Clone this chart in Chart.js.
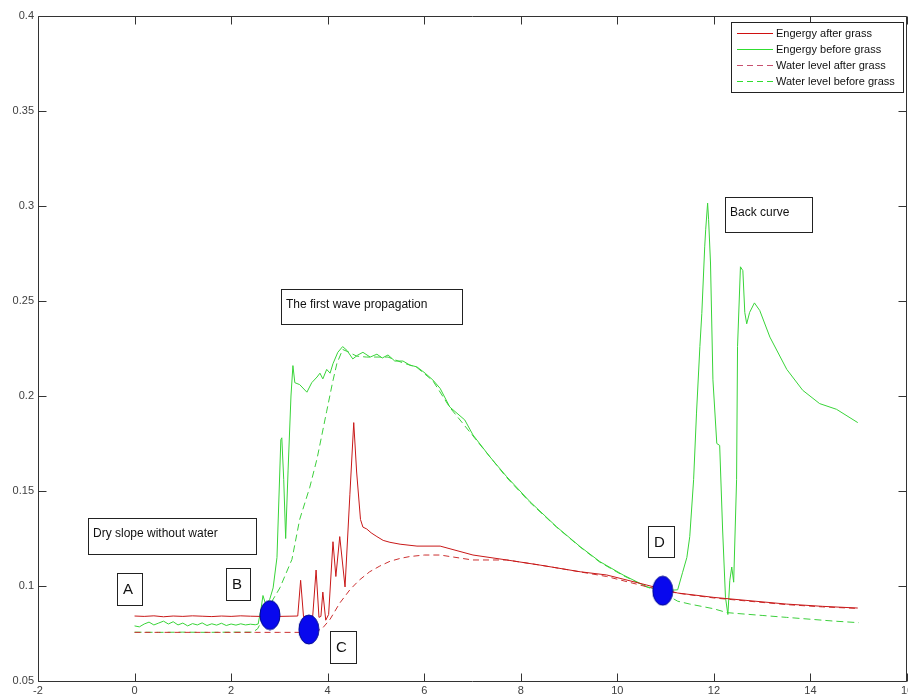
<!DOCTYPE html>
<html>
<head>
<meta charset="utf-8">
<script src="https://cdn.jsdelivr.net/npm/chart.js@4/dist/chart.umd.min.js"></script>
<style>
html,body{margin:0;padding:0;background:#fff;}
#wrap{width:908px;height:695px;}
</style>
</head>
<body>
<div id="wrap"><canvas id="c" width="908" height="695"></canvas></div>
<script>
// ---------- DATA ----------
const xTicks = [-2, 0, 2, 4, 6, 8, 10, 12, 14, 16];
const yTicks = [0.05, 0.1, 0.15, 0.2, 0.25, 0.3, 0.35, 0.4];

const seriesNames = ["Engergy after grass", "Engergy before grass", "Water level after grass", "Water level before grass"];

// Engergy after grass (red solid)
const energyAfterX = [0,0.2,0.4,0.6,0.8,1.0,1.2,1.4,1.6,1.8,2.0,2.2,2.4,2.6,2.8,3.0,3.2,3.38,3.44,3.50,3.69,3.76,3.82,3.86,3.90,3.96,4.02,4.11,4.17,4.25,4.36,4.46,4.54,4.60,4.68,4.73,4.81,4.90,5.02,5.15,5.29,5.50,5.85,6.33,7.01,7.71,8.40,9.23,9.78,10.61,11.25,12.0,12.81,13.5,14.25,14.98];
const energyAfterY = [0.0842,0.0840,0.0843,0.0838,0.0842,0.0840,0.0843,0.0841,0.0839,0.0842,0.0840,0.0843,0.0841,0.0840,0.0842,0.0840,0.0841,0.0842,0.1030,0.0838,0.0840,0.1084,0.0835,0.0840,0.0968,0.0820,0.0850,0.1233,0.1050,0.1260,0.0995,0.1480,0.1860,0.1600,0.1350,0.1310,0.1300,0.1280,0.1260,0.1240,0.1230,0.1220,0.1210,0.1210,0.1163,0.1137,0.1110,0.1075,0.1058,0.1005,0.0963,0.0940,0.0921,0.0905,0.0893,0.0884];

// Engergy before grass (green solid)
const energyBeforeX = [0,0.1,0.2,0.3,0.4,0.5,0.6,0.7,0.8,0.9,1.0,1.1,1.2,1.3,1.4,1.5,1.6,1.7,1.8,1.9,2.0,2.1,2.2,2.3,2.4,2.5,2.56,2.62,2.66,2.72,2.80,2.87,2.95,3.03,3.05,3.09,3.13,3.18,3.24,3.28,3.32,3.42,3.57,3.67,3.78,3.84,3.90,3.98,4.05,4.11,4.21,4.31,4.40,4.52,4.62,4.73,4.88,5.02,5.13,5.25,5.39,5.56,5.70,5.85,6.02,6.18,6.33,6.53,6.84,7.01,7.36,7.71,8.19,8.74,9.23,9.64,10.12,10.61,10.94,11.25,11.35,11.44,11.50,11.58,11.64,11.71,11.75,11.81,11.83,11.87,11.89,11.93,11.98,12.06,12.12,12.18,12.24,12.29,12.33,12.37,12.41,12.47,12.49,12.55,12.60,12.64,12.68,12.74,12.84,12.95,13.16,13.51,13.84,14.19,14.54,14.98];
const energyBeforeY = [0.0790,0.0785,0.0800,0.0810,0.0795,0.0805,0.0815,0.0800,0.0812,0.0795,0.0805,0.0790,0.0802,0.0795,0.0806,0.0792,0.0801,0.0794,0.0804,0.0792,0.0800,0.0794,0.0801,0.0795,0.0799,0.0796,0.0800,0.0880,0.0950,0.0900,0.0930,0.0990,0.1150,0.1770,0.1780,0.1560,0.1250,0.1610,0.2000,0.2160,0.2070,0.2060,0.2020,0.2070,0.2100,0.2120,0.2090,0.2140,0.2120,0.2170,0.2230,0.2260,0.2240,0.2195,0.2215,0.2230,0.2205,0.2220,0.2200,0.2216,0.2184,0.2184,0.2163,0.2153,0.2120,0.2084,0.2040,0.1942,0.1874,0.1795,0.1680,0.1575,0.1444,0.1312,0.1207,0.1128,0.1058,0.0996,0.0975,0.0980,0.1070,0.1150,0.1260,0.1560,0.1910,0.2260,0.2435,0.2785,0.2875,0.3015,0.2930,0.2700,0.2085,0.1750,0.1740,0.1300,0.0940,0.0850,0.1030,0.1100,0.1020,0.1560,0.2260,0.2680,0.2660,0.2440,0.2380,0.2440,0.2490,0.2450,0.2310,0.2140,0.2030,0.1960,0.1930,0.1860];

// Water level after grass (red dashed)
const waterAfterX = [0,0.5,1.0,1.5,2.0,2.5,3.0,3.5,3.75,3.90,4.05,4.25,4.46,4.65,4.87,5.08,5.29,5.50,5.70,6.00,6.33,7.00,7.71,8.40,9.10,9.78,10.61,11.25,12.0,12.81,13.5,14.25,14.98];
const waterAfterY = [0.0756,0.0756,0.0756,0.0756,0.0756,0.0756,0.0756,0.0756,0.0757,0.0780,0.0825,0.0910,0.0980,0.1030,0.1075,0.1105,0.1130,0.1145,0.1155,0.1163,0.1163,0.1137,0.1137,0.1110,0.1080,0.1050,0.0996,0.0962,0.0937,0.0918,0.0902,0.0890,0.0882];

// Water level before grass (green dashed)
const waterBeforeX = [0,0.5,1.0,1.5,2.0,2.45,2.55,2.66,2.80,3.01,3.26,3.42,3.63,3.78,3.98,4.10,4.19,4.31,4.40,4.60,4.80,5.00,5.25,5.50,5.85,6.18,6.53,7.01,7.71,8.19,8.74,9.23,9.64,10.12,10.61,10.94,11.25,11.50,12.00,12.27,12.50,13.00,13.50,14.00,14.50,15.00];
const waterBeforeY = [0.0757,0.0756,0.0757,0.0756,0.0757,0.0757,0.0775,0.0830,0.0900,0.0990,0.1140,0.1350,0.1520,0.1670,0.1920,0.2070,0.2170,0.2245,0.2235,0.2210,0.2205,0.2205,0.2205,0.2180,0.2150,0.2080,0.1940,0.1790,0.1570,0.1440,0.1310,0.1205,0.1125,0.1055,0.0995,0.0965,0.0920,0.0905,0.0880,0.0860,0.0855,0.0845,0.0835,0.0825,0.0815,0.0807];

// Marked points (blue ellipses)
const markerX = [2.805, 3.61, 10.94];
const markerY = [0.0847, 0.0771, 0.0975];

// Text annotations (data coordinates of box: x1, x2, yTop, yBottom)
const noteTexts = ["Dry slope without water", "A", "B", "C", "D", "The first wave propagation", "Back curve"];
const noteX1 = [-0.964, -0.364, 1.894, 4.048, 10.635, 3.033, 12.230];
const noteX2 = [2.515, 0.154, 2.391, 4.587, 11.173, 6.782, 14.030];
const noteYTop = [0.1358, 0.1068, 0.1095, 0.0763, 0.1316, 0.2563, 0.3047];
const noteYBot = [0.1168, 0.0900, 0.0926, 0.0595, 0.1153, 0.2379, 0.2863];
const noteBig = [false, true, true, true, true, false, false];

// ---------- STYLE ----------
const RED = '#c81818';
const RED_D = '#cc3030';
const GREEN = '#38d438';
const GREEN_D = '#3ccf3c';
const FONT = "'Liberation Sans', Arial, sans-serif";

const toPts = (xs, ys) => xs.map((x, i) => ({x: x, y: ys[i]}));

// ellipse marker image
const dot = document.createElement('canvas');
dot.width = 22; dot.height = 31;
(function(){
  const d = dot.getContext('2d');
  d.beginPath();
  d.ellipse(11, 15.5, 10, 14.5, 0, 0, Math.PI * 2);
  d.fillStyle = '#0808ee';
  d.fill();
  d.lineWidth = 1;
  d.strokeStyle = '#000890';
  d.stroke();
})();

const framePlugin = {
  id: 'matlabFrame',
  beforeDatasetsDraw(chart) {
    const ctx = chart.ctx, a = chart.chartArea;
    const xs = chart.scales.x, ys = chart.scales.y;
    ctx.save();
    ctx.strokeStyle = '#333';
    ctx.lineWidth = 1;
    const L = Math.round(a.left) + 0.5, R = Math.round(a.right) - 0.5;
    const T = Math.round(a.top) + 0.5, B = Math.round(a.bottom) + 0.5;
    ctx.beginPath();
    ctx.rect(L, T, R - L, B - T);
    ctx.stroke();
    const tl = 8;
    ctx.beginPath();
    xTicks.forEach(v => {
      const p = Math.round(xs.getPixelForValue(v)) + 0.5;
      ctx.moveTo(p, B); ctx.lineTo(p, B - tl);
      ctx.moveTo(p, T); ctx.lineTo(p, T + tl);
    });
    yTicks.forEach(v => {
      const p = Math.round(ys.getPixelForValue(v)) + 0.5;
      ctx.moveTo(L, p); ctx.lineTo(L + tl, p);
      ctx.moveTo(R, p); ctx.lineTo(R - tl, p);
    });
    ctx.stroke();
    ctx.restore();
  },
  afterDatasetsDraw(chart) {
    const ctx = chart.ctx;
    const xs = chart.scales.x, ys = chart.scales.y;
    ctx.save();
    ctx.strokeStyle = '#222';
    ctx.lineWidth = 1;
    ctx.fillStyle = '#111';
    ctx.textBaseline = 'alphabetic';
    ctx.textAlign = 'left';
    noteTexts.forEach((t, i) => {
      const x1 = Math.round(xs.getPixelForValue(noteX1[i])) + 0.5;
      const x2 = Math.round(xs.getPixelForValue(noteX2[i])) + 0.5;
      const y1 = Math.round(ys.getPixelForValue(noteYTop[i])) + 0.5;
      const y2 = Math.round(ys.getPixelForValue(noteYBot[i])) + 0.5;
      ctx.strokeRect(x1, y1, x2 - x1, y2 - y1);
      if (noteBig[i]) {
        ctx.font = '15px ' + FONT;
        ctx.fillText(t, x1 + 5.5, y1 + 20);
      } else {
        ctx.font = '12px ' + FONT;
        ctx.fillText(t, x1 + 4.5, y1 + 18);
      }
    });
    ctx.restore();
  },
  afterDraw(chart) {
    const ctx = chart.ctx;
    ctx.save();
    const bx = 731.5, by = 22.5, bw = 172, bh = 70;
    ctx.fillStyle = '#fff';
    ctx.fillRect(bx, by, bw, bh);
    ctx.strokeStyle = '#222';
    ctx.lineWidth = 1;
    ctx.strokeRect(bx, by, bw, bh);
    const colors = ['#d01010', '#30dd30', '#c8506e', '#30dd30'];
    const dashes = [[], [], [6, 4], [6, 4]];
    const rows = [33, 49, 65, 81];
    ctx.font = '11px ' + FONT;
    ctx.textBaseline = 'middle';
    ctx.textAlign = 'left';
    seriesNames.forEach((n, i) => {
      ctx.beginPath();
      ctx.setLineDash(dashes[i]);
      ctx.lineWidth = 1;
      ctx.strokeStyle = colors[i];
      ctx.moveTo(737, rows[i] + 0.5);
      ctx.lineTo(773, rows[i] + 0.5);
      ctx.stroke();
      ctx.setLineDash([]);
      ctx.fillStyle = '#111';
      ctx.fillText(n, 776, rows[i] + 1);
    });
    ctx.restore();
  }
};

const lineDs = (label, xs, ys, color, dash) => ({
  label: label,
  data: toPts(xs, ys),
  showLine: true,
  borderColor: color,
  backgroundColor: color,
  borderWidth: 1,
  borderDash: dash,
  pointRadius: 0,
  pointHoverRadius: 0,
  tension: 0,
  fill: false
});

new Chart(document.getElementById('c').getContext('2d'), {
  type: 'scatter',
  data: {
    datasets: [
      {
        label: 'markers',
        data: toPts(markerX, markerY),
        pointStyle: dot,
        pointRadius: 11,
        pointHoverRadius: 11,
        showLine: false
      },
      lineDs(seriesNames[0], energyAfterX, energyAfterY, RED, []),
      lineDs(seriesNames[2], waterAfterX, waterAfterY, RED_D, [6, 4]),
      lineDs(seriesNames[1], energyBeforeX, energyBeforeY, GREEN, []),
      lineDs(seriesNames[3], waterBeforeX, waterBeforeY, GREEN_D, [7, 4])
    ]
  },
  options: {
    responsive: false,
    animation: false,
    devicePixelRatio: 1,
    layout: {autoPadding: false, padding: {top: 16, right: 1, left: 0, bottom: 0}},
    plugins: {legend: {display: false}, tooltip: {enabled: false}},
    scales: {
      x: {
        type: 'linear', min: -2, max: 16,
        afterBuildTicks: s => { s.ticks = xTicks.map(v => ({value: v})); },
        afterFit: s => { s.height = 14; s.paddingLeft = 0; s.paddingRight = 0; },
        grid: {display: false, drawTicks: false},
        border: {display: false},
        ticks: {
          padding: 3, autoSkip: false, maxRotation: 0,
          color: '#404040',
          font: {family: FONT, size: 11},
          callback: v => String(v)
        }
      },
      y: {
        type: 'linear', min: 0.05, max: 0.4,
        afterBuildTicks: s => { s.ticks = yTicks.map(v => ({value: v})); },
        afterFit: s => { s.width = 38; s.paddingTop = 0; s.paddingBottom = 0; },
        grid: {display: false, drawTicks: false},
        border: {display: false},
        ticks: {
          padding: 4, autoSkip: false,
          color: '#404040',
          font: {family: FONT, size: 11},
          callback: v => String(Number(v.toFixed(2)))
        }
      }
    }
  },
  plugins: [framePlugin]
});
</script>
</body>
</html>
